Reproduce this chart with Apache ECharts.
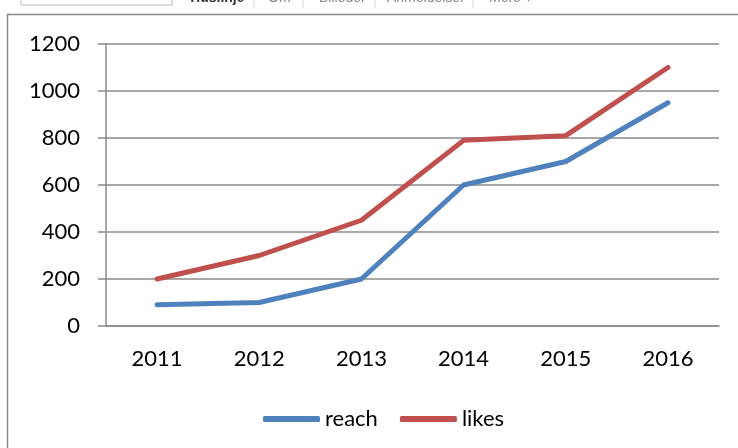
<!DOCTYPE html>
<html>
<head>
<meta charset="utf-8">
<script src="https://cdn.jsdelivr.net/npm/echarts@6/dist/echarts.min.js"></script>
<style>
  html, body { margin: 0; padding: 0; background: #fff; }
  #chart { width: 738px; height: 448px; }
</style>
</head>
<body>
<div id="chart"></div>
<script>
// data
const years = ["2011", "2012", "2013", "2014", "2015", "2016"];
const reach = [90, 100, 200, 600, 700, 950];
const likes = [200, 300, 450, 790, 810, 1100];
const navItems = ["Tidslinje", "Om", "Billeder", "Anmeldelser", "Mere ▾"];
const navX = [188, 268, 319, 387, 489];

const gray = "#8a8a8a";
const myChart = echarts.init(document.getElementById("chart"));

// cut-off browser bar on top of the screenshot
const navGraphics = navItems.map((t, i) => ({
  type: "text",
  left: navX[i],
  top: -9,
  style: {
    text: t,
    fontFamily: "Arial",
    fontSize: 14,
    fontWeight: i === 0 ? "bold" : "normal",
    fill: i === 0 ? "#333" : "#888"
  }
}));

const option = {
  animation: false,
  textStyle: { fontFamily: "Lato" },
  graphic: [
    {
      type: "rect",
      shape: { x: 21, y: -20, width: 151, height: 25 },
      style: { fill: "#fff", stroke: "#bbb", lineWidth: 1 }
    },
    ...[254, 303, 375, 473].map(x => ({
      type: "line",
      shape: { x1: x, y1: 0, x2: x, y2: 8 },
      style: { stroke: "#ddd", lineWidth: 1 }
    })),
    ...navGraphics,
    {
      type: "rect",
      shape: { x: 7.5, y: 14.5, width: 800, height: 500 },
      style: { fill: "none", stroke: gray, lineWidth: 1.5 },
      z: -1
    }
  ],
  grid: { left: 106, right: 19, top: 44, bottom: 122 },
  legend: {
    data: ["reach", "likes"],
    left: 258,
    top: 403,
    icon: "roundRect",
    itemWidth: 57,
    itemHeight: 6,
    itemGap: 22,
    textStyle: { fontFamily: "Lato", fontSize: 22, color: "#000" }
  },
  xAxis: {
    type: "category",
    data: years,
    axisLine: { lineStyle: { color: gray, width: 1.5 } },
    axisTick: { length: 10, lineStyle: { color: gray, width: 1.5 } },
    axisLabel: { fontSize: 22, color: "#000", margin: 22 }
  },
  yAxis: {
    type: "value",
    min: 0,
    max: 1200,
    interval: 200,
    axisLine: { show: true, lineStyle: { color: gray, width: 1.5 } },
    axisTick: { show: true, length: 8, lineStyle: { color: gray, width: 1.5 } },
    axisLabel: { fontSize: 22, color: "#000", margin: 26, formatter: v => String(v) },
    splitLine: { lineStyle: { color: gray, width: 1.5 } }
  },
  series: [
    {
      name: "reach",
      type: "line",
      data: reach,
      symbol: "none",
      color: "#4f81bd",
      lineStyle: { width: 5, cap: "round", join: "round" }
    },
    {
      name: "likes",
      type: "line",
      data: likes,
      symbol: "none",
      color: "#c0504d",
      lineStyle: { width: 5, cap: "round", join: "round" }
    }
  ]
};

myChart.setOption(option);
</script>
</body>
</html>
